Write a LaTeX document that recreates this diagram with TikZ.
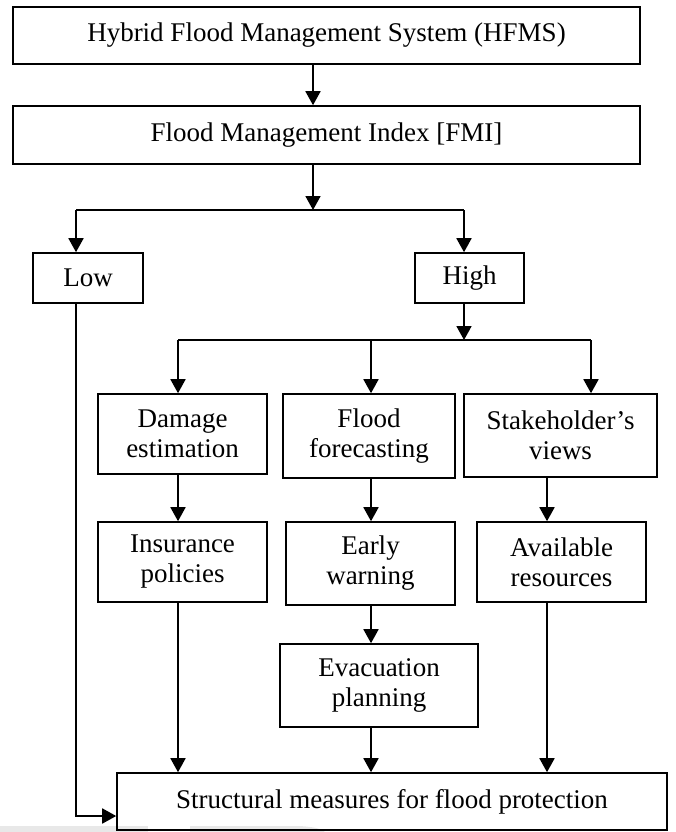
\documentclass[tikz,border=0pt]{standalone}
\usepackage{fontspec}
\setmainfont{Liberation Serif}
\usetikzlibrary{arrows.meta}
\begin{document}
\begin{tikzpicture}[x=1pt,y=-1pt,
  box/.style={draw=black, line width=1.6pt, align=center, inner sep=0pt,
    font=\fontsize{27}{30}\selectfont},
  arr/.style={line width=1.8pt, -{Triangle[width=15pt,length=14pt]}},
  thinline/.style={line width=1.1pt},
  midline/.style={line width=1.8pt}]
\useasboundingbox (0,0) rectangle (675,832);
% faint watermark at the bottom
\fill[gray!18] (0,826) rectangle (148,832);
\fill[gray!18] (190,826) -- (300,826) .. controls (315,827) and (322,829) .. (325,832) -- (190,832) -- cycle;
% nodes
\node[box, minimum width=627pt, minimum height=57pt] (hfms) at (326.5,35.5) {Hybrid Flood Management System (HFMS)};
\node[box, minimum width=627pt, minimum height=58pt] (fmi) at (326.5,135) {Flood Management Index [FMI]};
\node[box, minimum width=110pt, minimum height=50pt] (low) at (88,278) {Low};
\node[box, minimum width=109pt, minimum height=50pt] (high) at (469.5,278) {High};
\node[box, minimum width=169pt, minimum height=80pt] (damage) at (182.5,434) {Damage\\estimation};
\node[box, minimum width=172pt, minimum height=84pt] (forecast) at (369,436) {Flood\\forecasting};
\node[box, minimum width=193pt, minimum height=83pt] (stake) at (560.5,435.5) {Stakeholder’s\\views};
\node[box, minimum width=169pt, minimum height=80pt] (insur) at (182.5,562) {Insurance\\policies};
\node[box, minimum width=169pt, minimum height=83pt] (early) at (370.5,563.5) {Early\\warning};
\node[box, minimum width=169pt, minimum height=80pt] (avail) at (561.5,562) {Available\\resources};
\node[box, minimum width=198pt, minimum height=83pt] (evac) at (379,685.5) {Evacuation\\planning};
\node[box, minimum width=550pt, minimum height=57pt] (struct) at (392,801.5) {Structural measures for flood protection};
% helper coordinates
\coordinate (xM) at (313,0);
\coordinate (b1l) at (76,210);
\coordinate (b1r) at (464,210);
\coordinate (b2l) at (178,340);
\coordinate (b2c) at (371,340);
\coordinate (b2r) at (591,340);
\coordinate (xS) at (547,0);
\coordinate (lowturn) at (76,816);
% connectors
\draw[arr] (hfms.south -| xM) -- (fmi.north -| xM);
\draw[arr] (fmi.south -| xM) -- (xM |- b1l);
\draw[thinline] (b1l) -- (b1r);
\draw[arr] (b1l) -- (low.north -| b1l);
\draw[arr] (b1r) -- (high.north -| b1r);
\draw[arr] (high.south -| b1r) -- (b1r |- b2l);
\draw[midline] (b2l) -- (b2r);
\draw[arr] (b2l) -- (damage.north -| b2l);
\draw[arr] (b2c) -- (forecast.north -| b2c);
\draw[arr] (b2r) -- (stake.north -| b2r);
\draw[arr] (damage.south -| b2l) -- (insur.north -| b2l);
\draw[arr] (forecast.south -| b2c) -- (early.north -| b2c);
\draw[arr] (stake.south -| xS) -- (avail.north -| xS);
\draw[arr] (early.south -| b2c) -- (evac.north -| b2c);
\draw[arr] (insur.south -| b2l) -- (struct.north -| b2l);
\draw[arr] (evac.south -| b2c) -- (struct.north -| b2c);
\draw[arr] (avail.south -| xS) -- (struct.north -| xS);
\draw[arr] (low.south -| lowturn) -- (lowturn) -- (lowturn -| struct.west);
\end{tikzpicture}
\end{document}
